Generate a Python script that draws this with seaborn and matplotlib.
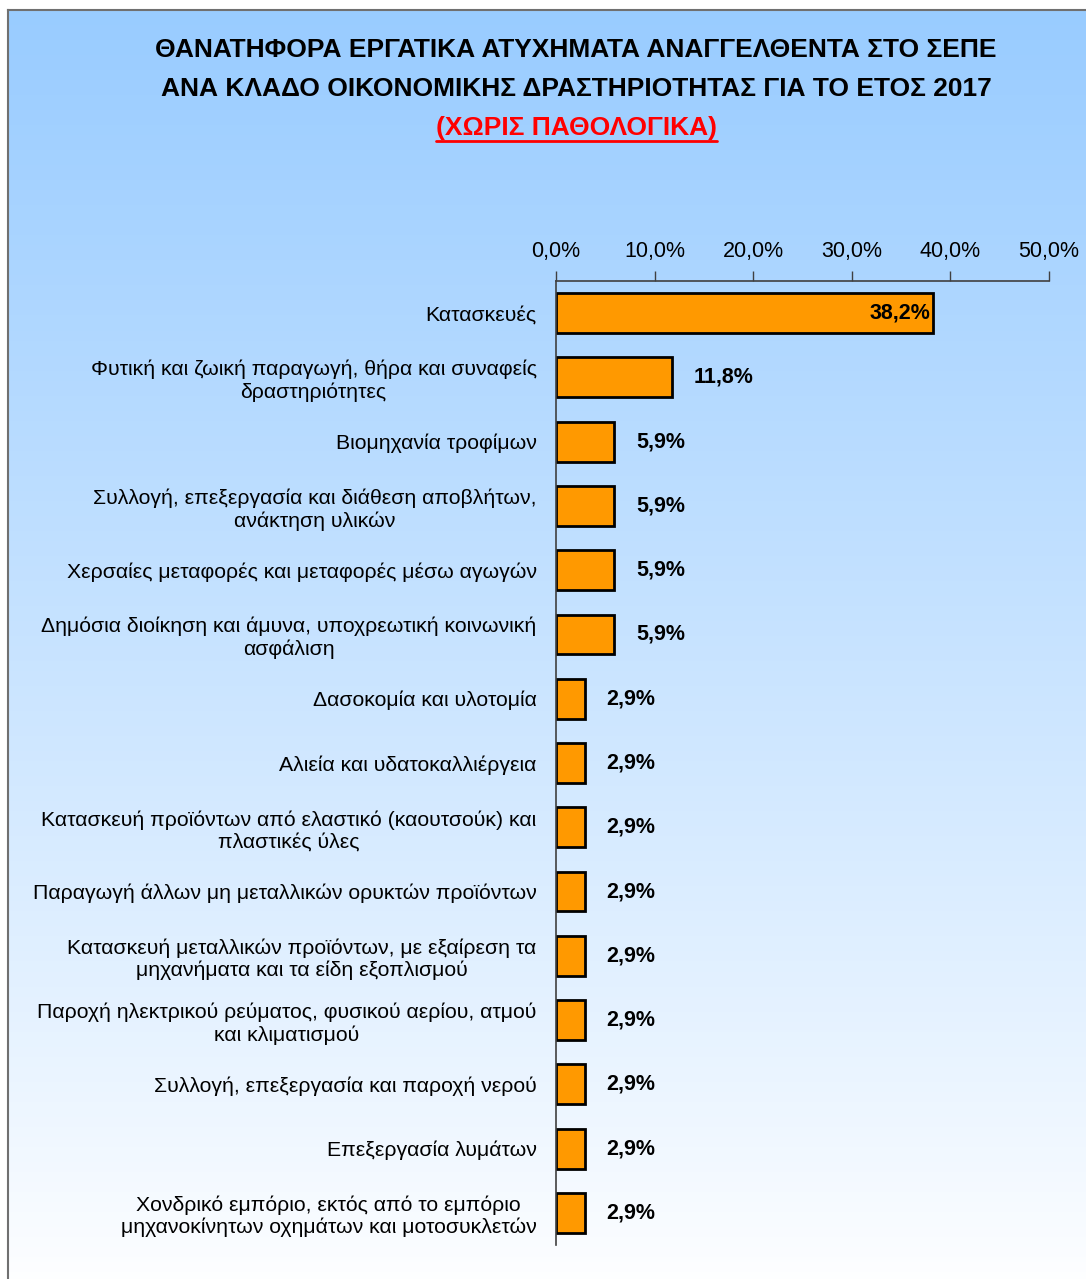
import matplotlib
matplotlib.use("Agg")
import matplotlib.pyplot as plt
import numpy as np
import pandas as pd
import seaborn as sns
from matplotlib.lines import Line2D

# Chart data (percent of fatal accidents, 2017)
categories = [
    "Κατασκευές",
    "Φυτική και ζωική παραγωγή, θήρα και συναφείς\nδραστηριότητες",
    "Βιομηχανία τροφίμων",
    "Συλλογή, επεξεργασία και διάθεση αποβλήτων,\nανάκτηση υλικών",
    "Χερσαίες μεταφορές και μεταφορές μέσω αγωγών",
    "Δημόσια διοίκηση και άμυνα, υποχρεωτική κοινωνική\nασφάλιση",
    "Δασοκομία και υλοτομία",
    "Αλιεία και υδατοκαλλιέργεια",
    "Κατασκευή προϊόντων από ελαστικό (καουτσούκ) και\nπλαστικές ύλες",
    "Παραγωγή άλλων μη μεταλλικών ορυκτών προϊόντων",
    "Κατασκευή μεταλλικών προϊόντων, με εξαίρεση τα\nμηχανήματα και τα είδη εξοπλισμού",
    "Παροχή ηλεκτρικού ρεύματος, φυσικού αερίου, ατμού\nκαι κλιματισμού",
    "Συλλογή, επεξεργασία και παροχή νερού",
    "Επεξεργασία λυμάτων",
    "Χονδρικό εμπόριο, εκτός από το εμπόριο\nμηχανοκίνητων οχημάτων και μοτοσυκλετών",
]
shares = [38.2, 11.8, 5.9, 5.9, 5.9, 5.9, 2.9, 2.9, 2.9, 2.9, 2.9, 2.9, 2.9, 2.9, 2.9]
x_ticks = [0, 10, 20, 30, 40, 50]

title_lines = [
    "ΘΑΝΑΤΗΦΟΡΑ ΕΡΓΑΤΙΚΑ ΑΤΥΧΗΜΑΤΑ ΑΝΑΓΓΕΛΘΕΝΤΑ ΣΤΟ ΣΕΠΕ",
    "ΑΝΑ ΚΛΑΔΟ ΟΙΚΟΝΟΜΙΚΗΣ ΔΡΑΣΤΗΡΙΟΤΗΤΑΣ ΓΙΑ ΤΟ ΕΤΟΣ 2017",
]
subtitle = "(ΧΩΡΙΣ ΠΑΘΟΛΟΓΙΚΑ)"

df = pd.DataFrame({"category": categories, "share": shares})

sns.set_theme(style="white")
plt.rcParams["font.family"] = ["Liberation Sans", "DejaVu Sans"]
plt.rcParams["text.color"] = "black"
plt.rcParams["xtick.color"] = "black"
plt.rcParams["ytick.color"] = "black"

W, H = 1086, 1279
fig = plt.figure(figsize=(W / 100, H / 100), dpi=100)
fig.patch.set_facecolor("white")

# gradient panel (light blue at top, white at bottom)
bg = fig.add_axes([8 / W, -0.01, 1.0, 1 - 10 / H + 0.01], zorder=0)
grad = np.linspace(0, 1, 256).reshape(-1, 1)
top = np.array([0.60, 0.80, 1.00])
bottom = np.array([1.0, 1.0, 1.0])
img = bottom + (top - bottom) * grad[..., None] ** 0.9
bg.imshow(img, aspect="auto", origin="lower", extent=[0, 1, 0, 1])
bg.set_xticks([])
bg.set_yticks([])
for s in bg.spines.values():
    s.set_color("#707070")
    s.set_linewidth(1.5)

ax = fig.add_axes([556 / W, 1 - 1245 / H, (1049 - 556) / W, (1245 - 281) / H], zorder=1)
ax.set_facecolor("none")

sns.barplot(data=df, x="share", y="category", orient="h", color="#FF9900",
            edgecolor="black", linewidth=2, width=0.62, saturation=1, ax=ax)

ax.set_xlim(0, 50)
ax.set_ylim(len(categories) - 0.5, -0.5)
ax.xaxis.tick_top()
ax.set_xticks(x_ticks)
ax.set_xticklabels([f"{v:.1f}%".replace(".", ",") for v in x_ticks], fontsize=15.5)
ax.tick_params(axis="x", direction="out", length=7, width=1, color="#404040", pad=7)
ax.set_xlabel("")
ax.set_ylabel("")

# category boundary ticks on the y axis
ax.set_yticks(np.arange(len(categories)))
ax.set_yticklabels(categories, fontsize=15.3)
for lbl in ax.get_yticklabels():
    lbl.set_multialignment("center")
ax.tick_params(axis="y", length=0, pad=14)
ax.set_yticks(np.arange(-0.5, len(categories), 1.0), minor=True)
ax.tick_params(axis="y", which="minor", length=6, width=1, color="#404040", direction="out")

for side in ["right", "bottom"]:
    ax.spines[side].set_visible(False)
for side in ["left", "top"]:
    ax.spines[side].set_color("#404040")
    ax.spines[side].set_linewidth(1.2)

# value labels
for i, v in enumerate(shares):
    txt = f"{v:.1f}%".replace(".", ",")
    if v > 30:
        ax.text(v - 0.2, i, txt, ha="right", va="center", fontsize=15.5, fontweight="bold")
    else:
        ax.text(v + 2.2, i, txt, ha="left", va="center", fontsize=15.5, fontweight="bold")

# title
title_font = ["Liberation Sans Narrow", "Liberation Sans", "DejaVu Sans"]
fig.text(576 / W, 1 - 50 / H, title_lines[0], ha="center", va="center",
         fontsize=19, fontweight="bold", family=title_font)
fig.text(576 / W, 1 - 89 / H, title_lines[1], ha="center", va="center",
         fontsize=19, fontweight="bold", family=title_font)
sub = fig.text(576 / W, 1 - 128 / H, subtitle, ha="center", va="center",
               fontsize=19, fontweight="bold", color="#FF0000", family=title_font)

fig.canvas.draw()
bb = sub.get_window_extent(renderer=fig.canvas.get_renderer())
fig.add_artist(Line2D([bb.x0 / W, bb.x1 / W], [(bb.y0 - 1) / H, (bb.y0 - 1) / H],
                      color="#FF0000", linewidth=2))

fig.savefig("out.png", dpi=100)
